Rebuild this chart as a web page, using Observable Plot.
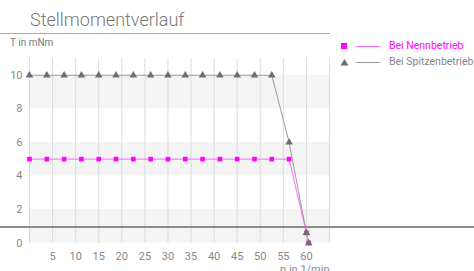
<!DOCTYPE html>
<html><head><meta charset="utf-8">
<script src="https://cdn.jsdelivr.net/npm/d3@7"></script>
<script src="https://cdn.jsdelivr.net/npm/@observablehq/plot@0.6"></script>
<style>
body{margin:0;background:#fff;font-family:Roboto,"Noto Sans",sans-serif;}
#wrap{position:relative;width:474px;height:271px;overflow:hidden;}
#title{position:absolute;left:0;top:0;width:330px;height:33px;border-bottom:1.5px solid #aaa;}
#title span{position:absolute;left:30px;top:9px;font-size:18px;font-weight:300;color:#777;letter-spacing:0px;}
#ylab{position:absolute;left:10px;top:37px;font-size:10px;color:#777;}
#legend{position:absolute;left:340px;top:39px;font-size:10.5px;}
.row{position:relative;height:16px;}
.row .mk{position:absolute;left:0;top:3px;}
.row .ln{position:absolute;left:16px;top:7px;width:24px;height:1px;}
.row .tx{position:absolute;left:49px;top:0px;white-space:nowrap;}
#hline{position:absolute;left:0;top:226px;width:474px;height:2px;background:#8c8c8c;}
#chart{position:absolute;left:0;top:0;}
</style></head>
<body><div id="wrap">
<div id="chart"></div>
<div id="title"><span>Stellmomentverlauf</span></div>
<div id="ylab">T in mNm</div>
<div id="legend"></div>
<div id="hline"></div>
</div>
<script>
const seriesNames = ["Bei Nennbetrieb", "Bei Spitzenbetrieb"];
const seriesColors = ["#ff00ff", "#6e6e6e"];
const lineColors = ["#ff66ff", "#9a9a9a"];
const speedsNenn = [0,3.75,7.5,11.25,15,18.75,22.5,26.25,30,33.75,37.5,41.25,45,48.75,52.5,56.25,60,60.5];
const torqueNenn = [5,5,5,5,5,5,5,5,5,5,5,5,5,5,5,5,0.6,0];
const speedsSpitze = [0,3.75,7.5,11.25,15,18.75,22.5,26.25,30,33.75,37.5,41.25,45,48.75,52.5,56.25,60,60.5];
const torqueSpitze = [10,10,10,10,10,10,10,10,10,10,10,10,10,10,10,6,0.6,0];
const xTicks = [5,10,15,20,25,30,35,40,45,50,55,60];
const xGrid = [0,5,10,15,20,25,30,35,40,45,50,55,60,65];
const yTicks = [0,2,4,6,8,10];
const xDomain = [0,65];
const yDomain = [0,11];
const xLabel = "n in 1/min";

const nenn = speedsNenn.map((x,i)=>({x, y: torqueNenn[i]}));
const spitze = speedsSpitze.map((x,i)=>({x, y: torqueSpitze[i]}));
const bands = yTicks.filter((t,i)=>i%2===0 && i<yTicks.length-1).map(t=>({y1:t, y2:t+2}));

const plot = Plot.plot({
  width: 474, height: 271,
  marginLeft: 29, marginRight: 145, marginTop: 58, marginBottom: 28.5,
  style: {fontFamily: "Roboto, 'Noto Sans', sans-serif", fontSize: "11px", color: "#888", background: "transparent"},
  x: {domain: xDomain, ticks: xTicks, tickSize: 0, tickPadding: 9, label: null},
  y: {domain: yDomain, ticks: yTicks, tickSize: 0, tickPadding: 7, label: null},
  marks: [
    Plot.rect(bands, {y1: "y1", y2: "y2", fill: "#f4f4f4"}),
    Plot.ruleX(xGrid, {stroke: "#dcdcdc", strokeWidth: 1}),
    Plot.line(spitze, {x: "x", y: "y", stroke: lineColors[1], strokeWidth: 1}),
    Plot.line(nenn, {x: "x", y: "y", stroke: lineColors[0], strokeWidth: 1}),
    Plot.dot(nenn, {x: "x", y: "y", symbol: "square", r: 2.6, fill: seriesColors[0]}),
    Plot.dot(spitze, {x: "x", y: "y", symbol: "triangle", r: 2.8, fill: seriesColors[1]}),
    Plot.text([xLabel], {frameAnchor: "bottom-right", lineAnchor: "middle", dy: 26, text: d=>d, fill: "#888", fontSize: 11})
  ]
});
document.getElementById("chart").appendChild(plot);

const leg = document.getElementById("legend");
seriesNames.forEach((name,i)=>{
  const row = document.createElement("div"); row.className="row";
  const mk = i===0
    ? `<svg class="mk" width="8" height="8"><rect x="1" y="1" width="6" height="6" fill="${seriesColors[0]}"/></svg>`
    : `<svg class="mk" width="9" height="8"><path d="M4.5,1 L8.5,7.5 L0.5,7.5 Z" fill="${seriesColors[1]}"/></svg>`;
  row.innerHTML = mk + `<div class="ln" style="background:${lineColors[i]}"></div><div class="tx" style="color:${i===0?seriesColors[0]:'#888'}">${name}</div>`;
  leg.appendChild(row);
});
</script>
</body></html>
